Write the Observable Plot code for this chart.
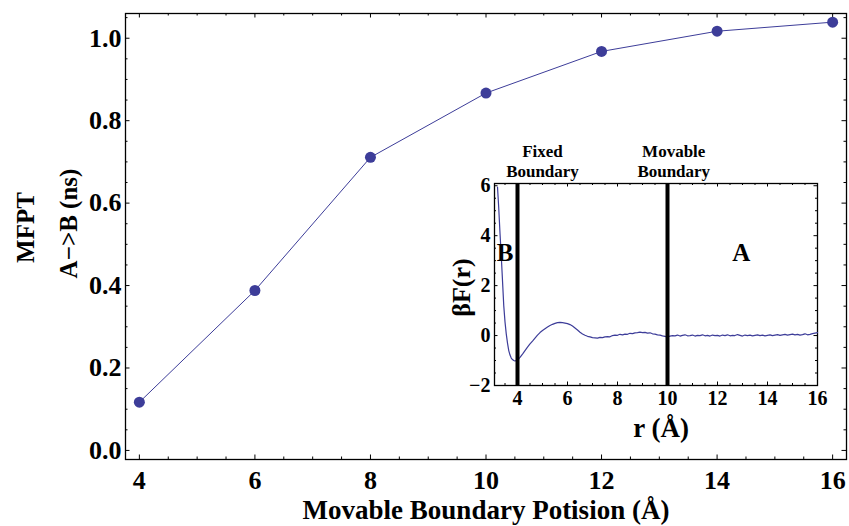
<!DOCTYPE html>
<html><head><meta charset="utf-8">
<script src="https://cdn.jsdelivr.net/npm/d3@7"></script>
<script src="https://cdn.jsdelivr.net/npm/@observablehq/plot@0.6"></script>
<style>
body{margin:0;background:#fff;}
#wrap{position:relative;width:849px;height:526px;overflow:hidden;}
#inset{position:absolute;left:430px;top:130px;}
svg{overflow:visible;}
</style></head><body><div id="wrap"><div id="main"></div><div id="inset"></div></div>
<script>
// ---- main chart data ----
const boundaryPositions = [4, 6, 8, 10, 12, 14, 16];
const mfptValues = [0.117, 0.388, 0.711, 0.867, 0.968, 1.017, 1.039];
const mainXTicks = [4, 6, 8, 10, 12, 14, 16];
const mainYTicks = [0, 0.2, 0.4, 0.6, 0.8, 1.0];
const mainXTitle = "Movable Boundary Potision (Å)";
const mainYTitle1 = "MFPT";
const mainYTitle2 = "A−>B (ns)";

// ---- inset data ----
const rFine = [3.2, 3.25, 3.3, 3.35, 3.4, 3.45, 3.5, 3.55, 3.6, 3.65, 3.7, 3.75, 3.8, 3.85, 3.9, 3.95, 4.0];
const rCoarse = d3.range(41, 161).map(i => i / 10);
const fFine = [5.95, 5.1, 4.1, 3.2, 2.2, 1.2, 0.55, 0.07, -0.3, -0.6, -0.78, -0.9, -0.96, -1.0, -1.02, -1.0, -0.98];
const fCoarse = [
  -0.87, -0.74, -0.6, -0.46, -0.33, -0.22, -0.1, 0.02, 0.12, 0.2,
  0.27, 0.34, 0.4, 0.45, 0.49, 0.52, 0.53, 0.52, 0.5, 0.48,
  0.44, 0.38, 0.3, 0.22, 0.13, 0.06, 0.01, -0.03, -0.05, -0.08,
  -0.09, -0.1, -0.07, -0.08, -0.05, -0.04, -0.05, 0.0, 0.02, 0.01,
  0.05, 0.03, 0.06, 0.05, 0.09, 0.08, 0.11, 0.12, 0.14, 0.12,
  0.13, 0.1, 0.11, 0.07, 0.06, 0.03, 0.02, -0.01, -0.03, -0.05,
  -0.02, 0.0, -0.01, 0.02, -0.02, 0.01, 0.03, -0.01, 0.0, 0.02,
  -0.02, 0.01, 0.0, 0.03, -0.01, 0.01, -0.02, 0.02, 0.0, 0.01,
  -0.02, 0.02, 0.0, 0.03, -0.01, 0.01, 0.0, 0.04, 0.01, -0.02,
  0.02, 0.0, 0.02, -0.01, 0.01, 0.03, 0.0, 0.02, -0.01, 0.01,
  0.03, 0.0, 0.02, 0.04, 0.01, 0.03, 0.05, 0.02, 0.04, 0.06,
  0.03, 0.05, 0.02, 0.04, 0.07, 0.03, 0.05, 0.08, 0.1, 0.12
];
const rValues = rFine.concat(rCoarse);
const fValues = fFine.concat(fCoarse);
const insetXTicks = [4, 6, 8, 10, 12, 14, 16];
const insetYTicks = [-2, 0, 2, 4, 6];
const boundaryLines = [4, 10];
const boundaryNames = ["Fixed\nBoundary", "Movable\nBoundary"];
const boundaryLabelR = [5.0, 10.25];
const regionNames = ["B", "A"];
const regionR = [3.5, 12.95];
const regionF = [3.3, 3.3];
const insetXTitle = "r (Å)";
const insetYTitle = "βF(r)";

// ---- styling ----
const serif = "'Liberation Serif','Times New Roman',serif";
const blue = "#3d3d99";

function frameTicks(xs, ys, len, fw, fh) {
  const o = {stroke: "black", strokeWidth: 1};
  return [
    Plot.tickX(xs, {x: d => d, insetTop: fh - len, ...o}),
    Plot.tickX(xs, {x: d => d, insetBottom: fh - len, ...o}),
    Plot.tickY(ys, {y: d => d, insetRight: fw - len, ...o}),
    Plot.tickY(ys, {y: d => d, insetLeft: fw - len, ...o})
  ];
}
function minors(lo, hi, step, majors) {
  return d3.range(Math.ceil(lo / step), Math.floor(hi / step) + 1)
    .map(i => +(i * step).toFixed(4))
    .filter(v => !majors.some(m => Math.abs(m - v) < 1e-6));
}

// ---- main plot ----
const M = {top: 13, right: 3, bottom: 67, left: 125, width: 849, height: 526};
const mfw = M.width - M.left - M.right, mfh = M.height - M.top - M.bottom;
const mainXDomain = [3.76, 16.24], mainYDomain = [-0.022, 1.06];
const mainPts = boundaryPositions.map((x, i) => ({x, y: mfptValues[i]}));

const mainPlot = Plot.plot({
  width: M.width, height: M.height,
  marginTop: M.top, marginRight: M.right, marginBottom: M.bottom, marginLeft: M.left,
  x: {domain: mainXDomain, label: null},
  y: {domain: mainYDomain, label: null},
  style: {fontFamily: serif, fontSize: "26px", fontWeight: "bold", color: "black", background: "white", overflow: "visible"},
  marks: [
    ...frameTicks(minors(mainXDomain[0], mainXDomain[1], 0.5, mainXTicks), minors(0, 1.05, 0.05, mainYTicks), 2.5, mfw, mfh),
    ...frameTicks(mainXTicks, mainYTicks, 4.5, mfw, mfh),
    Plot.frame({stroke: "black", strokeWidth: 1.3}),
    Plot.axisX({ticks: mainXTicks, tickSize: 0, tickPadding: 11, tickFormat: d => String(d), label: null}),
    Plot.axisY({ticks: mainYTicks, tickSize: 0, tickPadding: 4, tickFormat: d3.format(".1f"), label: null}),
    Plot.line(mainPts, {x: "x", y: "y", stroke: blue, strokeWidth: 1}),
    Plot.dot(mainPts, {x: "x", y: "y", r: 5.5, fill: blue, stroke: "none"}),
    Plot.text([mainXTitle], {text: d => d, frameAnchor: "bottom", dy: 51, lineAnchor: "middle", fontSize: 27, fontWeight: "bold", fill: "black"}),
    Plot.text([mainYTitle1], {text: d => d, frameAnchor: "left", textAnchor: "middle", rotate: -90, dx: -100, dy: -9, lineAnchor: "middle", fontSize: 25, fontWeight: "bold", fill: "black"}),
    Plot.text([mainYTitle2], {text: d => d, frameAnchor: "left", textAnchor: "middle", rotate: -90, dx: -57, dy: -13, lineAnchor: "middle", fontSize: 25, fontWeight: "bold", fill: "black"})
  ]
});
document.getElementById("main").append(mainPlot);

// ---- inset plot ----
const I = {top: 53, right: 23, bottom: 65, left: 64, width: 410, height: 320};
const ifw = I.width - I.left - I.right, ifh = I.height - I.top - I.bottom;
const insetXDomain = [3.08, 16], insetYDomain = [-2, 6.09];
const curve = rValues.map((r, i) => ({r, f: fValues[i]}));
const regions = regionNames.map((n, i) => ({n, r: regionR[i], f: regionF[i]}));
const bLabels = boundaryNames.map((n, i) => ({n, r: boundaryLabelR[i]}));

const insetPlot = Plot.plot({
  width: I.width, height: I.height,
  marginTop: I.top, marginRight: I.right, marginBottom: I.bottom, marginLeft: I.left,
  x: {domain: insetXDomain, label: null},
  y: {domain: insetYDomain, label: null},
  style: {fontFamily: serif, fontSize: "20px", fontWeight: "bold", color: "black", background: "transparent", overflow: "visible"},
  marks: [
    Plot.frame({fill: "white", stroke: "none"}),
    ...frameTicks(minors(insetXDomain[0], insetXDomain[1], 0.5, insetXTicks), minors(-2, 6, 0.5, insetYTicks), 2, ifw, ifh),
    ...frameTicks(insetXTicks, insetYTicks, 3.5, ifw, ifh),
    Plot.frame({stroke: "black", strokeWidth: 1.3}),
    Plot.axisX({ticks: insetXTicks, tickSize: 0, tickPadding: 5, tickFormat: d => String(d), label: null}),
    Plot.axisY({ticks: insetYTicks, tickSize: 0, tickPadding: 4, tickFormat: d3.format("d"), label: null}),
    Plot.line(curve, {x: "r", y: "f", stroke: blue, strokeWidth: 1.2}),
    Plot.ruleX(boundaryLines, {x: d => d, stroke: "black", strokeWidth: 4}),
    Plot.text(regions, {x: "r", y: "f", text: "n", fontSize: 25, fontWeight: "bold", fill: "black"}),
    Plot.text(bLabels, {x: "r", text: "n", frameAnchor: "top", lineAnchor: "bottom", dy: -7, lineHeight: 1.12, fontSize: 17, fontWeight: "bold", fill: "black"}),
    Plot.text([insetXTitle], {text: d => d, frameAnchor: "bottom", dx: 5, dy: 43, lineAnchor: "middle", fontSize: 27, fontWeight: "bold", fill: "black"}),
    Plot.text([insetYTitle], {text: d => d, frameAnchor: "left", textAnchor: "middle", rotate: -90, dx: -33, dy: 3, lineAnchor: "middle", fontSize: 26, fontWeight: "bold", fill: "black"})
  ]
});
document.getElementById("inset").append(insetPlot);
</script></body></html>
